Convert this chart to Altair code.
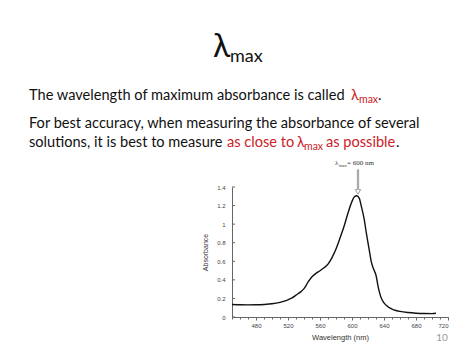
import altair as alt
import pandas as pd

# ---- data ----
wavelength = [450, 460, 470, 480, 490, 500, 510, 520, 525, 530, 535, 540, 545, 550, 555,
              560, 565, 570, 575, 580, 585, 590, 595, 600, 603, 606, 609, 612, 615, 618,
              621, 624, 627, 630, 633, 636, 640, 645, 650, 655, 660, 670, 680, 690, 700, 705]
absorbance = [0.134, 0.132, 0.131, 0.132, 0.135, 0.142, 0.158, 0.185, 0.205, 0.235, 0.265,
              0.305, 0.375, 0.433, 0.47, 0.498, 0.53, 0.57, 0.64, 0.733, 0.85, 0.975, 1.12,
              1.245, 1.295, 1.305, 1.28, 1.18, 1.065, 0.90, 0.75, 0.60, 0.516, 0.45, 0.314,
              0.217, 0.152, 0.11, 0.085, 0.07, 0.06, 0.048, 0.041, 0.037, 0.036, 0.04]
x_major = [480, 520, 560, 600, 640, 680, 720]
x_minor = list(range(450, 721, 10))
y_ticks = [0, 0.2, 0.4, 0.6, 0.8, 1.0, 1.2, 1.4]

# ---- layout (plot origin on the slide) ----
OX, OY = 232, 187
PW, PH = 216, 130
W, H = 474, 355

spec = pd.DataFrame({"wl": wavelength, "A": absorbance})

xs = alt.Scale(domain=[450, 720], nice=False, zero=False)
ys = alt.Scale(domain=[0, 1.4], nice=False)

AX = "Liberation Sans"
y_axis = alt.Axis(values=y_ticks, title="Absorbance", format="~g",
                  labelFont=AX, labelFontSize=6, labelColor="#444444", titleFont=AX, titleFontSize=7,
                  titleFontWeight="normal", titleColor="#333333", tickSize=0, domainColor="#666666",
                  labelPadding=7, titlePadding=8, grid=False, labelOverlap=False)

line = alt.Chart(spec).mark_line(color="#111111", strokeWidth=1.4, interpolate="monotone").encode(
    x=alt.X("wl:Q", scale=xs, axis=alt.Axis(values=x_major, orient="bottom", title="Wavelength (nm)",
            labelFont=AX, labelFontSize=6, labelColor="#444444", titleFont=AX, titleFontSize=7.5,
            titleFontWeight="normal", titleColor="#333333", tickSize=3, tickColor="#666666",
            domainColor="#666666", labelPadding=2, titlePadding=5, grid=False, labelOverlap=False)),
    y=alt.Y("A:Q", scale=ys, axis=y_axis),
)

minor = alt.Chart(pd.DataFrame({"wl": x_minor})).mark_point(opacity=0).encode(
    x=alt.X("wl:Q", scale=xs, axis=alt.Axis(values=x_minor, orient="bottom", labels=False, title=None,
            domain=False, tickSize=2, tickColor="#666666", grid=False)),
)

yt = alt.Chart(pd.DataFrame({"A": y_ticks})).mark_rule(color="#666666", strokeWidth=1).encode(
    y=alt.Y("A:Q", scale=ys, axis=y_axis), x=alt.value(0), x2=alt.value(3)
)

SANS = "Lato"
BLACK = "#111111"
RED = "#cc2229"
FS = 14.6

def txt(s, X, Y, size, color=BLACK, font=SANS, align="left"):
    return alt.Chart(pd.DataFrame({"t": [s]})).mark_text(
        font=font, fontSize=size, color=color, align=align, baseline="alphabetic"
    ).encode(text="t:N", x=alt.value(X - OX), y=alt.value(Y - OY))

texts = [
    txt("λ", 213, 57, 32),
    txt("max", 230, 62, 18),
    txt("The wavelength of maximum absorbance is called ", 29, 100, FS),
    txt("λ", 351, 100, FS, RED),
    txt("max", 359, 103, 10.5, RED),
    txt(".", 378, 100, FS),
    txt("For best accuracy, when measuring the absorbance of several", 29, 128, FS),
    txt("solutions, it is best to measure ", 29, 147, FS),
    txt("as close to ", 227, 147, FS, RED),
    txt("λ", 297, 147, FS, RED),
    txt("max", 304, 150, 10.5, RED),
    txt(" as possible", 326, 147, FS, RED),
    txt(".", 396, 147, FS),
    txt("λ", 335, 165, 7, "#333333", "Liberation Serif"),
    txt("max", 339, 166.5, 4.5, "#333333", "Liberation Serif"),
    txt("= 600 nm", 347, 165, 7, "#333333", "Liberation Serif"),
    txt("10", 442, 341, 10, "#999999", SANS, "center"),
]

arrow_path = "M -0.05 -1 L 0.05 -1 L 0.05 0.62 L 0.22 0.62 L 0 1 L -0.22 0.62 L -0.05 0.62 Z"
arrow = alt.Chart(pd.DataFrame({"k": [0]})).mark_point(
    shape=arrow_path, size=600, filled=False, stroke="#555555", strokeWidth=0.8
).encode(x=alt.value(358 - OX), y=alt.value(182 - OY))

chart = alt.layer(line, minor, yt, arrow, *texts).resolve_axis(x="independent").properties(
    width=PW, height=PH,
    autosize=alt.AutoSizeParams(type="none"),
    padding={"left": OX, "top": OY, "right": W - OX - PW, "bottom": H - OY - PH},
    background="white",
).configure_view(stroke=None).configure_axisY(labelOverlap=False)

chart.save("out.html", embed_options={"renderer": "svg", "actions": False})
